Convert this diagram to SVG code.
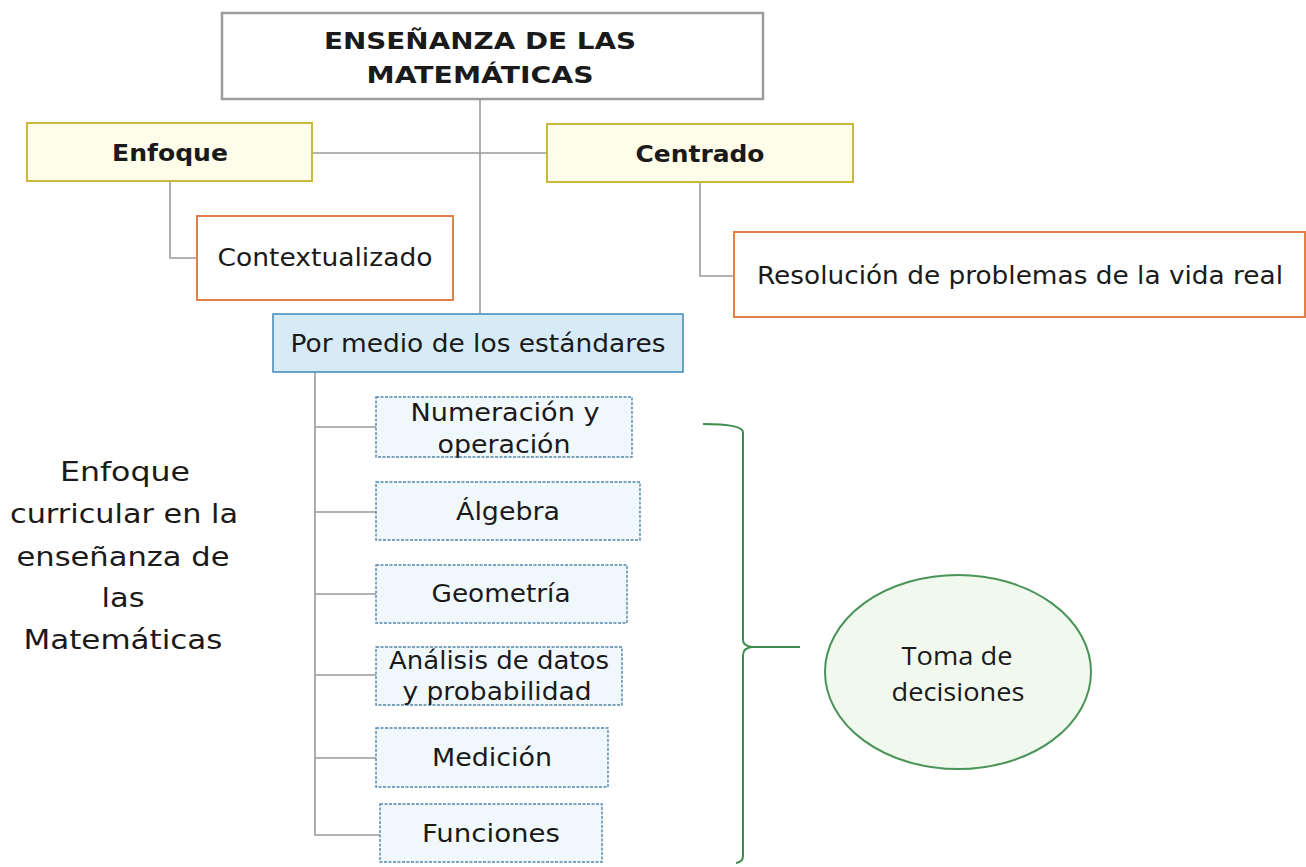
<svg xmlns="http://www.w3.org/2000/svg" width="1306" height="867" viewBox="0 0 1306 867">
<style>
text{font-family:"DejaVu Sans","Noto Sans",sans-serif;fill:#1a1a1a;text-anchor:middle;dominant-baseline:central;font-size:24px}
.b{font-weight:bold;font-size:23px}
.big{font-size:26px}
.cal{font-family:"Open Sans","Noto Sans",sans-serif;font-size:26px}
.conn{fill:none;stroke:#9a9a9a;stroke-width:1.6}
.yel{fill:#fefde9;stroke:#c9b83c;stroke-width:2}
.ora{fill:#fff;stroke:#e07f48;stroke-width:2}
.std{fill:#f1f8fc;stroke:#4f87ad;stroke-width:1.4;stroke-dasharray:3 1.5}
</style>
<rect width="1306" height="867" fill="#fff"/>
<g id="connectors">
<path class="conn" d="M480 99V315"/>
<path class="conn" d="M312 153H547"/>
<path class="conn" d="M170 181V258H197"/>
<path class="conn" d="M700 182V276H734"/>
<path class="conn" d="M315 372V835H380"/>
<path class="conn" d="M315 427H376M315 512H376M315 594H376M315 675H376M315 758H376"/>
</g>
<g id="title">
<rect x="222" y="13" width="541" height="86" fill="#fff" stroke="#9c9c9c" stroke-width="2.5"/>
<text x="480" y="41" class="b" font-size="27" textLength="312" lengthAdjust="spacingAndGlyphs">ENSEÑANZA DE LAS</text>
<text x="480" y="75" class="b" font-size="27" textLength="227" lengthAdjust="spacingAndGlyphs">MATEMÁTICAS</text>
</g>
<g id="enfoque">
<rect class="yel" x="27" y="123" width="285" height="58"/>
<text x="170" y="153" class="b" textLength="116" lengthAdjust="spacingAndGlyphs">Enfoque</text>
</g>
<g id="centrado">
<rect class="yel" x="547" y="124" width="306" height="58"/>
<text x="700" y="154" class="b" textLength="129" lengthAdjust="spacingAndGlyphs">Centrado</text>
</g>
<g id="contextualizado">
<rect class="ora" x="197" y="216" width="256" height="84"/>
<text x="325" y="258" textLength="215" lengthAdjust="spacingAndGlyphs">Contextualizado</text>
</g>
<g id="resolucion">
<rect class="ora" x="734" y="232" width="571" height="85"/>
<text x="1020" y="276" textLength="526" lengthAdjust="spacingAndGlyphs">Resolución de problemas de la vida real</text>
</g>
<g id="estandares">
<rect x="273" y="314" width="410" height="58" fill="#d6ebf6" stroke="#4a8fc0" stroke-width="1.6"/>
<text x="478" y="344" textLength="375" lengthAdjust="spacingAndGlyphs">Por medio de los estándares</text>
</g>
<g id="numeracion">
<rect class="std" x="376" y="397" width="256" height="60"/>
<text x="505" y="413" textLength="189" lengthAdjust="spacingAndGlyphs">Numeración y</text>
<text x="504" y="445" textLength="133" lengthAdjust="spacingAndGlyphs">operación</text>
</g>
<g id="algebra">
<rect class="std" x="376" y="482" width="264" height="58"/>
<text x="508" y="512" textLength="104" lengthAdjust="spacingAndGlyphs">Álgebra</text>
</g>
<g id="geometria">
<rect class="std" x="376" y="565" width="251" height="58"/>
<text x="501" y="594" textLength="139" lengthAdjust="spacingAndGlyphs">Geometría</text>
</g>
<g id="analisis">
<rect class="std" x="376" y="647" width="246" height="58"/>
<text x="499" y="661" textLength="220" lengthAdjust="spacingAndGlyphs">Análisis de datos</text>
<text x="497" y="692" textLength="189" lengthAdjust="spacingAndGlyphs">y probabilidad</text>
</g>
<g id="medicion">
<rect class="std" x="376" y="728" width="232" height="59"/>
<text x="492" y="758" textLength="120" lengthAdjust="spacingAndGlyphs">Medición</text>
</g>
<g id="funciones">
<rect class="std" x="380" y="804" width="222" height="58"/>
<text x="491" y="834" textLength="138" lengthAdjust="spacingAndGlyphs">Funciones</text>
</g>
<g id="brace">
<path d="M703 424Q742 424 743 432V640Q743 646 752 647H800M752 647Q743 648 743 655V856Q743 862 736 863" fill="none" stroke="#3e8c4c" stroke-width="2"/>
</g>
<g id="toma">
<ellipse cx="958" cy="672" rx="133" ry="97" fill="#f1f8ee" stroke="#4a9458" stroke-width="2"/>
<text x="957" y="655" class="cal" textLength="111" lengthAdjust="spacingAndGlyphs">Toma de</text>
<text x="958" y="691" class="cal" textLength="133" lengthAdjust="spacingAndGlyphs">decisiones</text>
</g>
<g id="label">
<text x="125" y="472" class="big" textLength="130" lengthAdjust="spacingAndGlyphs">Enfoque</text>
<text x="124" y="514" class="big" textLength="228" lengthAdjust="spacingAndGlyphs">curricular en la</text>
<text x="123" y="557" class="big" textLength="213" lengthAdjust="spacingAndGlyphs">enseñanza de</text>
<text x="123" y="598" class="big" textLength="43" lengthAdjust="spacingAndGlyphs">las</text>
<text x="123" y="640" class="big" textLength="199" lengthAdjust="spacingAndGlyphs">Matemáticas</text>
</g>
</svg>
